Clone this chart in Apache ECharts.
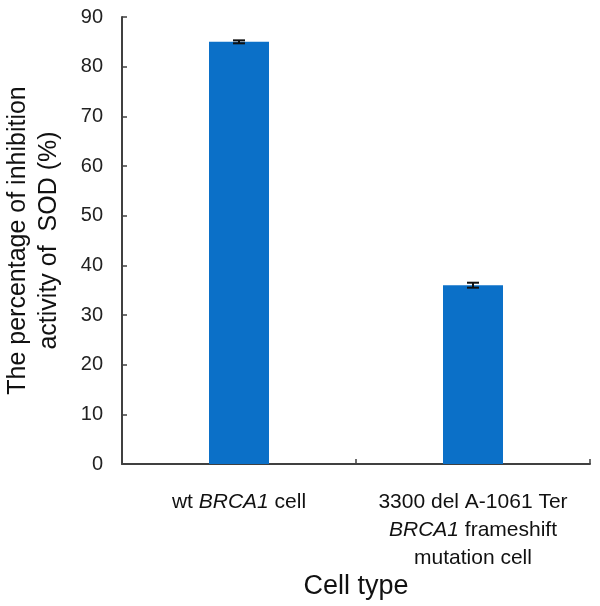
<!DOCTYPE html>
<html>
<head>
<meta charset="utf-8">
<script src="https://cdn.jsdelivr.net/npm/echarts@6/dist/echarts.min.js"></script>
<style>
    html, body { margin: 0; padding: 0; background: #fff; }
    #chart { width: 600px; height: 606px; }
</style>
</head>
<body>
<div id="chart"></div>
<script>
// category labels, "\n" breaks lines, BRCA1 gets set in italics
const categories = ['wt BRCA1 cell', '3300 del A-1061 Ter\nBRCA1 frameshift\nmutation cell']
const inhibition = [85, 36]
const errors = [0.3, 0.5]
const yTicks = { min: 0, max: 90, interval: 10 }

const chart = echarts.init(document.getElementById('chart'))
const fontFamily = 'Liberation Sans, Arial, sans-serif'
const axisColor = '#404040'

// wrap each line part in rich tags so the gene name is italic
function richLabel(text) {
    return text.split('\n').map(line => {
        return line.split(/(BRCA1)/).filter(s => s !== '').map(part => {
            return part === 'BRCA1' ? '{i|' + part + '}' : '{n|' + part + '}'
        }).join('')
    }).join('\n')
}

const option = {
    animation: false,
    grid: { left: 122, right: 10, top: 17, bottom: 142, outerBoundsMode: 'none', containLabel: false },
    xAxis: {
        type: 'category',
        data: categories,
        name: 'Cell type',
        nameLocation: 'middle',
        nameGap: 106,
        nameTextStyle: { fontSize: 27, color: '#111', fontFamily: fontFamily },
        axisLine: { lineStyle: { color: axisColor, width: 2 } },
        axisTick: { show: true, inside: true, length: 5, lineStyle: { color: axisColor, width: 1.5 } },
        axisLabel: {
            margin: 24,
            interval: 0,
            formatter: v => richLabel(v),
            rich: {
                n: { fontSize: 21, color: '#111', fontFamily: fontFamily, lineHeight: 28 },
                i: { fontSize: 21, color: '#111', fontFamily: fontFamily, fontStyle: 'italic', lineHeight: 28 }
            }
        }
    },
    yAxis: {
        type: 'value',
        min: yTicks.min,
        max: yTicks.max,
        interval: yTicks.interval,
        name: 'The percentage of inhibition\nactivity of  SOD (%)',
        nameLocation: 'middle',
        nameGap: 57,
        nameTextStyle: { fontSize: 25, color: '#111', fontFamily: fontFamily, lineHeight: 31 },
        splitLine: { show: false },
        axisLine: { show: true, lineStyle: { color: axisColor, width: 2 } },
        axisTick: { show: true, inside: true, length: 5, lineStyle: { color: axisColor, width: 1.5 } },
        axisLabel: { margin: 19, fontSize: 20, color: '#222', fontFamily: fontFamily }
    },
    series: [
        {
            type: 'bar',
            data: inhibition,
            barWidth: 60,
            itemStyle: { color: '#0b70c8' }
        },
        {
            type: 'custom',
            data: inhibition.map((v, i) => [i, v - errors[i], v + errors[i]]),
            renderItem: function (params, api) {
                const lo = api.coord([api.value(0), api.value(1)])
                const hi = api.coord([api.value(0), api.value(2)])
                const half = 6
                const style = { stroke: '#111', lineWidth: 2 }
                return {
                    type: 'group',
                    children: [
                        { type: 'line', shape: { x1: lo[0], y1: lo[1], x2: hi[0], y2: hi[1] }, style: style },
                        { type: 'line', shape: { x1: hi[0] - half, y1: hi[1], x2: hi[0] + half, y2: hi[1] }, style: style },
                        { type: 'line', shape: { x1: lo[0] - half, y1: lo[1], x2: lo[0] + half, y2: lo[1] }, style: style }
                    ]
                }
            },
            z: 10
        }
    ]
}
chart.setOption(option)
</script>
</body>
</html>
